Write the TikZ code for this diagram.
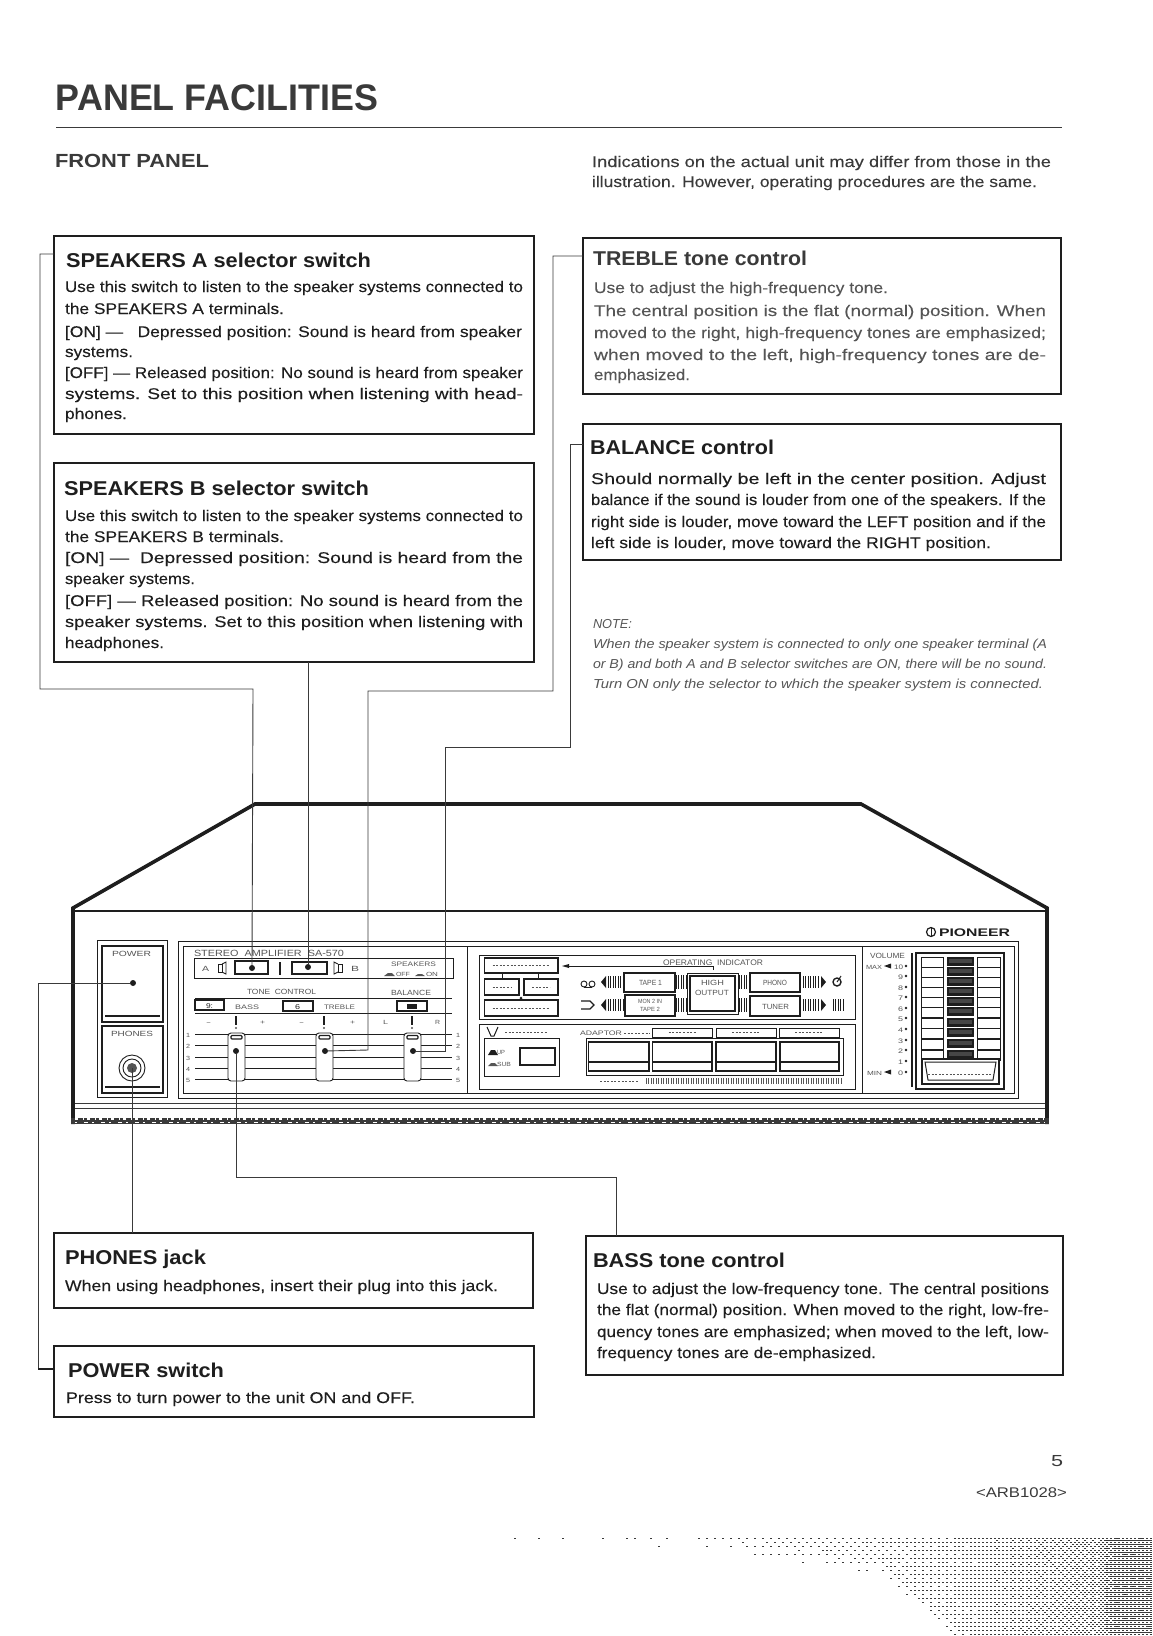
\documentclass[tikz,border=0pt]{standalone}
\usepackage{fontspec}
\usepackage{graphicx}
\setmainfont{Liberation Sans}
\newfontfamily\bodyf[FakeBold=0.12]{Liberation Sans}
\usetikzlibrary{calc}
\definecolor{ink}{HTML}{1E1E1E}
\definecolor{soft}{HTML}{3A3A3A}
\definecolor{fade}{HTML}{555555}
\newcounter{tlc}
\newsavebox\tlbox
\newcount\hx \newcount\hy \newcount\hp \newcount\hq \newcount\yb
\newcount\lcg \newcount\lct \newcount\lcu \newcount\ci \newcount\cj \newcount\bv
\lcg=12345
\newcommand{\fbody}{\bodyf\fontsize{15.5}{15.5}\selectfont}
\newcommand{\fhead}{\bfseries\fontsize{20}{20}\selectfont}
\newcommand{\fnote}{\itshape\fontsize{13}{13}\selectfont}
\newcommand{\fpan}{\fontsize{7.5}{8}\selectfont}
\newcommand{\tl}[5]{%
  \stepcounter{tlc}%
  \node[txt,name=t\thetlc] at (#1,#2) {%
    \sbox\tlbox{\color{#4}#5}%
    \pgfmathsetmacro\tlw{\the\wd\tlbox}%
    \pgfmathsetmacro\tlr{(#3-#1)/\tlw}%
    \scalebox{\tlr}[1]{\usebox\tlbox}};}
\newcommand{\bxn}[5]{%
  \pgfmathsetmacro\bw{#4-#2}\pgfmathsetmacro\bh{#5-#3}%
  \pgfmathsetmacro\bcx{(#2+#4)/2}\pgfmathsetmacro\bcy{(#3+#5)/2}%
  \node[infobox,minimum width=\bw pt,minimum height=\bh pt] (#1) at (\bcx,\bcy) {};}
\newcommand{\nextrand}{%
  \lct=\numexpr\lcg*421+54773\relax
  \lcu=\lct \divide\lcu by 259200 \multiply\lcu by 259200
  \advance\lct by -\lcu
  \global\lcg=\lct}
\newcommand{\halftone}{%
  \hx=514 \ci=0
  \loop\ifnum\hx<1152
    \ifnum\hx<700 \hp=60
    \else\ifnum\hx<950 \hp=\numexpr60+(\hx-700)*140/250\relax
    \else\ifnum\hx<1095 \hp=\numexpr200+(\hx-950)*220/145\relax
    \else\ifnum\hx<1112 \hp=\numexpr420+(\hx-1095)*20\relax
    \else \hp=760 \fi\fi\fi\fi
    \ifnum\hx<880 \yb=\numexpr1546+(\hx-514)*(\hx-514)/4465\relax
    \else \yb=\numexpr1576+(\hx-880)*66/75\relax \fi
    {\hy=1539 \cj=0
     \loop\ifnum\hy<1636
       \nextrand
       \hq=\hp
       \ifnum\numexpr\yb-\hy\relax<16
         \ifnum\numexpr\yb-\hy\relax<0 \hq=0
         \else \hq=\numexpr\hp*(\yb-\hy)/16\relax \fi
       \fi
       \bv=\numexpr\ci*4+\cj\relax
       \bv=\ifcase\bv 0\or8\or2\or10\or12\or4\or14\or6\or3\or11\or1\or9\or15\or7\or13\or5\fi\relax
       \ifnum\numexpr\bv*62+\lcg/4160\relax<\hq
         \pgfpathrectangle{\pgfqpoint{\the\hx pt}{-\the\hy pt}}{\pgfqpoint{1.5pt}{1.5pt}}\pgfusepath{fill}%
       \fi
       \advance\hy by 2
       \advance\cj by 1 \ifnum\cj=4 \cj=0 \fi
     \repeat}
    \advance\hx by 2
    \advance\ci by 1 \ifnum\ci=4 \ci=0 \fi
  \repeat}
\tikzset{
  txt/.style={anchor=base west,inner sep=0pt,outer sep=0pt},
  infobox/.style={draw=ink,line width=1.3pt,inner sep=0pt,outer sep=0pt,rectangle},
  wire/.style={draw=soft,line width=0.9pt},
  pan/.style={draw=ink,line width=0.9pt},
  thick outline/.style={draw=ink,line width=3.6pt,line join=miter},
  spot/.style={fill=ink,draw=none,circle,minimum size=6pt,inner sep=0pt},
  hatch/.style={draw=ink,line width=0.9pt},
  faint/.style={draw=fade,line width=0.8pt,dash pattern=on 2pt off 1.6pt}
}
\begin{document}
\begin{tikzpicture}[x=1pt,y=-1pt]
\useasboundingbox (0,0) rectangle (1152,1636);
\fill[white] (0,0) rectangle (1152,1636);
% ---- halftone corner
\begin{scope}
\pgfsetfillcolor{soft}
\halftone
\end{scope}
% ---- heading
\tl{56}{110}{378}{soft}{\bfseries\fontsize{37}{37}\selectfont PANEL FACILITIES}
\draw[draw=soft,line width=1pt] (56,127) -- (1062,127);
\tl{55}{167}{209}{soft}{\bfseries\fontsize{19}{19}\selectfont FRONT PANEL}
\tl{592}{167}{1051}{soft}{\fbody Indications on the actual unit may differ from those in the}
\tl{592}{187}{1037}{soft}{\fbody illustration. However, operating procedures are the same.}
% ---- info boxes
\bxn{sa}{54}{236}{534}{434}
\bxn{sb}{54}{463}{534}{662}
\bxn{tr}{583}{238}{1061}{394}
\bxn{ba}{583}{424}{1061}{560}
\bxn{ph}{54}{1233}{533}{1308}
\bxn{pw}{54}{1346}{534}{1417}
\bxn{bs}{586}{1236}{1063}{1375}
% Speakers A
\tl{66}{267}{371}{ink}{\fhead SPEAKERS A selector switch}
\tl{65}{292}{523}{ink}{\fbody Use this switch to listen to the speaker systems connected to}
\tl{65}{314}{284}{ink}{\fbody the SPEAKERS A terminals.}
\tl{65}{337}{522}{ink}{\fbody [ON] — \ \ Depressed position: Sound is heard from speaker}
\tl{65}{357}{133}{ink}{\fbody systems.}
\tl{65}{378}{523}{ink}{\fbody [OFF] — Released position: No sound is heard from speaker}
\tl{65}{399}{523}{ink}{\fbody systems. Set to this position when listening with head-}
\tl{65}{419}{127}{ink}{\fbody phones.}
% Speakers B
\tl{64}{495}{369}{ink}{\fhead SPEAKERS B selector switch}
\tl{65}{521}{523}{ink}{\fbody Use this switch to listen to the speaker systems connected to}
\tl{65}{542}{284}{ink}{\fbody the SPEAKERS B terminals.}
\tl{65}{563}{523}{ink}{\fbody [ON] — \ Depressed position: Sound is heard from the}
\tl{65}{584}{195}{ink}{\fbody speaker systems.}
\tl{65}{606}{523}{ink}{\fbody [OFF] — Released position: No sound is heard from the}
\tl{65}{627}{523}{ink}{\fbody speaker systems. Set to this position when listening with}
\tl{65}{648}{164}{ink}{\fbody headphones.}
% Treble
\tl{593}{265}{807}{soft}{\fhead TREBLE tone control}
\tl{594}{293}{888}{fade}{\fbody Use to adjust the high-frequency tone.}
\tl{594}{316}{1046}{fade}{\fbody The central position is the flat (normal) position. When}
\tl{594}{338}{1046}{fade}{\fbody moved to the right, high-frequency tones are emphasized;}
\tl{594}{360}{1046}{fade}{\fbody when moved to the left, high-frequency tones are de-}
\tl{594}{380}{690}{fade}{\fbody emphasized.}
% Balance
\tl{590}{454}{774}{ink}{\fhead BALANCE control}
\tl{591}{484}{1046}{ink}{\fbody Should normally be left in the center position. Adjust}
\tl{591}{505}{1046}{ink}{\fbody balance if the sound is louder from one of the speakers. If the}
\tl{591}{527}{1046}{ink}{\fbody right side is louder, move toward the LEFT position and if the}
\tl{591}{548}{991}{ink}{\fbody left side is louder, move toward the RIGHT position.}
% Note
\tl{593}{628}{632}{fade}{\fnote NOTE:}
\tl{593}{648}{1047}{fade}{\fnote When the speaker system is connected to only one speaker terminal (A}
\tl{593}{668}{1047}{fade}{\fnote or B) and both A and B selector switches are ON, there will be no sound.}
\tl{593}{688}{1043}{fade}{\fnote Turn ON only the selector to which the speaker system is connected.}
% Phones, Power, Bass
\tl{65}{1264}{206}{ink}{\fhead PHONES jack}
\tl{65}{1291}{498}{ink}{\fbody When using headphones, insert their plug into this jack.}
\tl{68}{1377}{224}{ink}{\fhead POWER switch}
\tl{66}{1403}{415}{ink}{\fbody Press to turn power to the unit ON and OFF.}
\tl{593}{1267}{785}{ink}{\fhead BASS tone control}
\tl{597}{1294}{1049}{ink}{\fbody Use to adjust the low-frequency tone. The central positions}
\tl{597}{1315}{1049}{ink}{\fbody the flat (normal) position. When moved to the right, low-fre-}
\tl{597}{1337}{1049}{ink}{\fbody quency tones are emphasized; when moved to the left, low-}
\tl{597}{1358}{876}{ink}{\fbody frequency tones are de-emphasized.}
% page no
\tl{1051}{1466}{1063}{soft}{\fontsize{16}{16}\selectfont 5}
\tl{976}{1497}{1067}{soft}{\fontsize{14}{14}\selectfont <ARB1028>}
% ---- amplifier outline
\draw[thick outline] (73,1124) -- (73,908) -- (255,804) -- (861,804) -- (1047,908) -- (1047,1124);
\draw[draw=ink,line width=1.2pt] (75,911) -- (1045,911);
\draw[draw=soft,line width=1pt] (75,1103) -- (1045,1103);
\draw[draw=soft,line width=1pt] (75,1108) -- (1045,1108);
\draw[draw=soft,line width=6pt] (71,1120.5) -- (1049,1120.5);
\draw[draw=white,line width=1.4pt,dash pattern=on 3pt off 5pt on 1pt off 3pt] (75,1119) -- (1045,1119);
\draw[draw=white,line width=1pt,dash pattern=on 2pt off 7pt on 4pt off 4pt] (75,1122) -- (1045,1122);
% power / phones panel
\draw[pan] (97,940) rectangle (167,1097);
\draw[draw=ink,line width=1.3pt] (102,946) rectangle (163,1022);
\draw[draw=ink,line width=1.3pt] (102,1026) rectangle (163,1093);
\draw[draw=ink,line width=1.5pt] (105,1016) -- (160,1016);
\draw[draw=ink,line width=1.5pt] (105,1087) -- (160,1087);
\tl{112}{956}{151}{fade}{\fpan POWER}
\tl{111}{1036}{153}{fade}{\fpan PHONES}
\node[spot] (powerdot) at (133,983) {};
\coordinate (jack) at (132,1068);
\draw[pan] (jack) circle (13); \draw[pan] (jack) circle (9);
\fill[fade] (jack) circle (5);
% main panel frames
\draw[pan] (178,941) -- (1018,941) -- (1018,1098) -- (178,1098) -- cycle;
\draw[pan] (183,946) rectangle (1014,1093);
\draw[pan] (467,946) -- (467,1093);
\draw[pan] (862,946) -- (862,1093);
% left section
\tl{194}{956}{344}{fade}{\fontsize{9}{9}\selectfont STEREO\ \ AMPLIFIER\ \ SA-570}
\draw[pan] (194,958) rectangle (453,978);
\tl{202}{971}{209}{fade}{\fpan A}
\draw[pan] (218,964) rectangle (222,972); \draw[pan] (222,964) -- (226,962) -- (226,974) -- (222,972);
\draw[draw=ink,line width=1.5pt,fill=white] (235,961) rectangle (268,974);
\draw[draw=ink,line width=1.5pt,fill=white] (292,962) rectangle (327,974);
\draw[draw=ink,line width=1.4pt] (280,962) -- (280,975);
\node[spot] (swa) at (252,968) {};
\node[spot] (swb) at (308,967) {};
\draw[pan] (338,964) rectangle (342,972); \draw[pan] (338,964) -- (334,962) -- (334,974) -- (338,972);
\tl{351}{971}{359}{fade}{\fpan B}
\tl{391}{966}{436}{fade}{\fontsize{6.5}{7}\selectfont SPEAKERS}
\tl{396}{976}{410}{fade}{\fontsize{6}{7}\selectfont OFF}
\tl{426}{976}{438}{fade}{\fontsize{6}{7}\selectfont ON}
\fill[fade] (384,976) -- (388,973) -- (392,973) -- (395,976) -- cycle;
\fill[fade] (415,976) -- (418,974) -- (422,974) -- (425,976) -- cycle;
\tl{247}{994}{316}{fade}{\fpan TONE\ \ CONTROL}
\tl{391}{995}{431}{fade}{\fpan BALANCE}
\draw[pan] (195,998) -- (452,998);
\draw[pan] (195,1013) -- (452,1013);
\draw[draw=ink,line width=1.4pt,fill=white] (195,1000) rectangle (224,1010);
\tl{206}{1008}{213}{ink}{\fontsize{7}{7}\selectfont 9:}
\tl{235}{1009}{259}{fade}{\fontsize{6.5}{7}\selectfont BASS}
\draw[draw=ink,line width=1.4pt,fill=white] (283,1001) rectangle (313,1011);
\tl{295}{1009}{300}{ink}{\fontsize{7}{7}\selectfont 6}
\tl{324}{1009}{355}{fade}{\fontsize{6.5}{7}\selectfont TREBLE}
\draw[draw=ink,line width=1.4pt,fill=white] (397,1001) rectangle (427,1011);
\fill[ink] (407,1003.5) rectangle (417,1008.5);
\foreach \lx/\lr/\ll in {206/211/-,260/265/+,299/304/-,350/355/+,383/388/L,435/440/R}{\tl{\lx}{1024}{\lr}{fade}{\fontsize{6}{7}\selectfont \ll}}
\foreach \kx in {236,324,412}{
  \draw[draw=ink,line width=1.4pt] (\kx,1016) -- (\kx,1025);
  \fill[fade] (\kx,1028) circle (1.1);
}
\foreach \sy/\sb/\sn in {1034/1037/1,1045/1048/2,1057/1060/3,1068/1071/4,1079/1082/5}{
  \draw[draw=ink,line width=1pt] (195,\sy) -- (452,\sy);
  \tl{186}{\sb}{190}{fade}{\fontsize{6}{7}\selectfont \sn}
  \tl{456}{\sb}{460}{fade}{\fontsize{6}{7}\selectfont \sn}
}
\foreach \kx/\kn in {228/ka,316/kb,404/kc}{
  \draw[draw=ink,line width=0.9pt,fill=white,rounded corners=3pt] (\kx,1033) rectangle (\kx+17,1081);
  \draw[draw=ink,line width=1.1pt,rounded corners=1pt] (\kx+3,1035.5) rectangle (\kx+14,1039);
}
\node[spot] (bassk) at (236,1051) {};
\node[spot] (trebk) at (325,1051) {};
\node[spot] (balk) at (413,1051) {};
% indicator section
\draw[pan] (479,955) rectangle (855,1019);
\draw[pan] (479,1024) rectangle (855,1089);
\foreach \a/\b/\c/\d in {484.5/958/558/973,484.5/979/519/995,524/979/558/995,484.5/1000/558/1016}{
  \draw[draw=ink,line width=1.2pt] (\a,\b) rectangle (\c,\d);
  \draw[faint] (\a+8,{(\b+\d)/2}) -- (\c-8,{(\b+\d)/2});
}
\draw[draw=ink,line width=1pt] (502,973) -- (502,979);
\draw[draw=ink,line width=1pt] (538,973) -- (538,979);
\fill[ink] (521,998) circle (1.5);
\tl{663}{965}{763}{fade}{\fontsize{8}{8}\selectfont OPERATING\ \ INDICATOR}
\draw[draw=ink,line width=1pt] (713,970) -- (713,966) -- (569,966);
\fill[ink] (562,966) -- (569,964) -- (569,968) -- cycle;
\foreach \a/\b/\c/\d in {624/973/675/992,750/973/800/992,625/995/675/1016,750/996/800/1016}{
  \draw[draw=ink,line width=1.4pt] (\a,\b) rectangle (\c,\d);
}
\draw[draw=ink,line width=1pt] (687,973) rectangle (738,1014);
\draw[draw=ink,line width=1.6pt] (690,976) rectangle (735,1011);
\tl{639}{985}{662}{fade}{\fpan TAPE 1}
\tl{638}{1003}{662}{fade}{\fontsize{6}{7}\selectfont MON 2 IN}
\tl{640}{1011}{660}{fade}{\fontsize{6}{7}\selectfont TAPE 2}
\tl{701}{985}{724}{fade}{\fpan HIGH}
\tl{695}{995}{729}{fade}{\fpan OUTPUT}
\tl{763}{985}{787}{fade}{\fpan PHONO}
\tl{762}{1009}{789}{fade}{\fpan TUNER}
\foreach \hy in {982,1005}{
  \foreach \hx in {608,610.5,...,623}{\draw[hatch] (\hx,\hy-6) -- (\hx,\hy+6);}
  \foreach \hx in {803,805.5,...,819}{\draw[hatch] (\hx,\hy-6) -- (\hx,\hy+6);}
  \foreach \hx in {676,678.5,...,686}{\draw[hatch] (\hx,\hy-7) -- (\hx,\hy+7);}
  \foreach \hx in {739,741.5,...,749}{\draw[hatch] (\hx,\hy-7) -- (\hx,\hy+7);}
  \fill[ink] (601,\hy) -- (606,\hy-6) -- (606,\hy+6) -- cycle;
  \fill[ink] (826,\hy) -- (821,\hy-6) -- (821,\hy+6) -- cycle;
}
\draw[pan] (584,984) ellipse (3 and 3); \draw[pan] (592,984) ellipse (3 and 3); \draw[pan] (584,987) -- (592,987);
\draw[draw=ink,line width=1.2pt] (581,1001) -- (590,1001) -- (594,1005) -- (590,1009) -- (581,1009);
\draw[draw=ink,line width=1.4pt] (837,982) circle (4); \draw[draw=ink,line width=1pt] (837,982) -- (841,976);
\foreach \hx in {833,835.5,...,843}{\draw[hatch] (\hx,999) -- (\hx,1011);}
% adaptor row
\draw[draw=ink,line width=1pt] (484.5,1038) rectangle (559,1076);
\draw[draw=ink,line width=1.5pt] (520,1048) rectangle (555,1065);
\tl{497}{1054}{505}{fade}{\fontsize{6}{7}\selectfont UP}
\tl{497}{1066}{511}{fade}{\fontsize{6}{7}\selectfont SUB}
\fill[ink] (488,1055) -- (491,1050) -- (495,1050) -- (498,1055) -- cycle;
\fill[fade] (488,1066) -- (491,1063) -- (495,1063) -- (498,1066) -- cycle;
\draw[draw=ink,line width=1pt] (487,1027) -- (491,1036) -- (494,1036) -- (498,1027);
\draw[faint] (505,1032) -- (548,1032);
\tl{580}{1035}{622}{fade}{\fontsize{6.5}{7}\selectfont ADAPTOR}
\draw[faint] (624,1033) -- (650,1033);
\foreach \a/\c in {652.5/712,716/776,779/839}{
  \draw[draw=ink,line width=1pt] (\a,1028) rectangle (\c,1037);
  \draw[faint] (\a+16,1032.5) -- (\c-16,1032.5);
}
\draw[draw=ink,line width=1pt] (586,1038) rectangle (843,1075);
\foreach \a/\c in {588.5/649,652.5/712,716/776,780/839}{
  \draw[draw=ink,line width=1.6pt] (\a,1042) rectangle (\c,1071);
  \draw[draw=ink,line width=1.2pt] (\a,1062) -- (\c,1062);
}
\draw[faint] (600,1081) -- (638,1081);
\foreach \hx in {646,648.5,...,843}{\draw[draw=fade,line width=0.8pt] (\hx,1078) -- (\hx,1084);}
% volume
\tl{870}{958}{905}{fade}{\fpan VOLUME}
\tl{866}{969}{882}{fade}{\fontsize{6}{7}\selectfont MAX}
\tl{867}{1075}{882}{fade}{\fontsize{6}{7}\selectfont MIN}
\tl{894}{969}{903}{fade}{\fontsize{6.5}{7}\selectfont 10}
\foreach \vy/\vn in {979/9,990/8,1000/7,1011/6,1021/5,1032/4,1043/3,1053/2,1064/1,1075/0}{
  \tl{898}{\vy}{903}{fade}{\fontsize{6.5}{7}\selectfont \vn}
}
\foreach \vy in {966,976,987,997,1008,1018,1029,1040,1050,1061,1072}{\fill[ink] (906,\vy) circle (1.4);}
\fill[ink] (884,966) -- (891,963.5) -- (891,968.5) -- cycle;
\fill[ink] (884,1072) -- (891,1069.5) -- (891,1074.5) -- cycle;
\draw[draw=ink,line width=2.4pt] (912,953) -- (912,1087);
\draw[draw=ink,line width=1.6pt] (916,953) rectangle (1004,1089);
\foreach \vy in {957,967,977,987,997,1007,1018,1028,1039,1050}{
  \draw[draw=ink,line width=0.9pt] (921,\vy) rectangle (943,\vy+10);
  \draw[draw=ink,line width=0.9pt] (977,\vy) rectangle (1000,\vy+10);
  \fill[ink] (947,\vy) rectangle (974,\vy+8.5);
  \fill[white,opacity=0.18] (949,\vy+2) rectangle (972,\vy+6);
}
\draw[draw=ink,line width=1.4pt,fill=white] (922,1059) rectangle (999,1084);
\draw[draw=ink,line width=1pt] (925,1062) -- (996,1062) -- (993,1080) -- (928,1080) -- cycle;
\draw[faint] (928,1074) -- (993,1074);
% logo
\tl{939}{936.5}{1010}{ink}{\bfseries\fontsize{11}{11}\selectfont PIONEER}
\draw[draw=ink,line width=1.2pt] (931,932) circle (4.5);
\draw[draw=ink,line width=1pt] (931,927.5) -- (931,936.5);
% ---- connectors
\draw[wire] ([yshift=-18pt]sa.north west) -- (40,254) -- (40,689) -- (253,689) -- (swa);
\draw[wire] (sb.south -| swb) -- (swb);
\draw[wire] ([yshift=-18pt]tr.north west) -- (553,256) -- (553,691) -- (368,691) -- (368,1050) -- (trebk);
\draw[wire] ([yshift=-20pt]ba.north west) -- (570,444) -- (570,747) -- (445,747) -- (445,1051) -- (balk);
\draw[wire] (bassk) -- (236,1177) -- (616,1177) -- (bs.north -| 616,0);
\draw[wire] (jack) -- (ph.north -| jack);
\draw[wire] (powerdot) -- (38,983) -- (38,1369) -- (pw.west |- 0,1369);
\draw[draw=ink,line width=1.8pt] (38,1369) -- (pw.west |- 0,1369);
\end{tikzpicture}
\end{document}
